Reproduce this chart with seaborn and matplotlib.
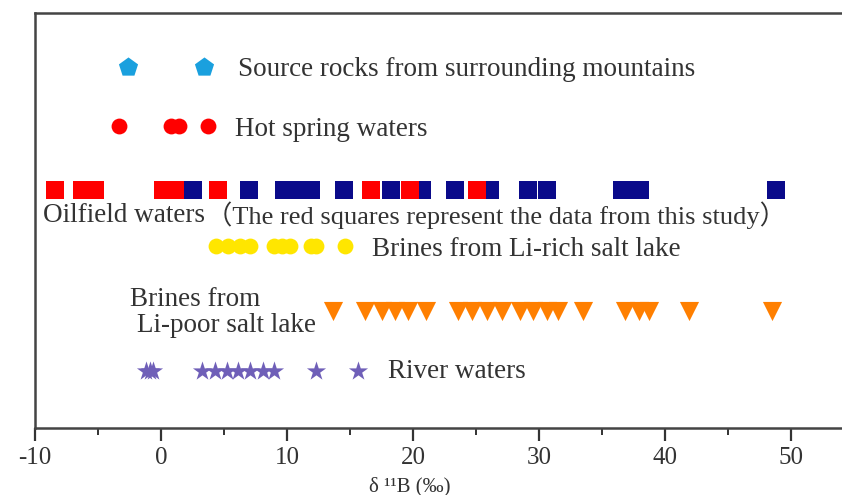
import numpy as np
import pandas as pd
import matplotlib
matplotlib.use("Agg")
import matplotlib.pyplot as plt
import seaborn as sns

# delta 11B values (per mil)
source_rocks = [-2.6, 3.4]
hot_springs = [-3.3, 0.8, 1.4, 3.7]
oil_blue = [2.5, 7.0, 9.8, 10.9, 11.9, 14.5, 18.25, 20.7, 23.3, 26.1,
            29.1, 30.6, 36.6, 38.0, 48.8]
oil_red = [-8.4, -6.3, -5.2, 0.15, 1.1, 4.5, 16.7, 19.8, 25.1]
li_rich = [4.4, 5.3, 6.3, 7.1, 9.0, 9.6, 10.2, 11.9, 12.3, 14.6]
li_poor = [13.65, 16.2, 17.5, 18.6, 19.6, 21.0, 23.6, 24.7, 25.9, 27.1,
           28.5, 29.5, 30.6, 31.5, 33.5, 36.8, 37.9, 38.7, 41.9, 48.5]
river = [-1.2, -0.9, -0.6, 3.25, 4.3, 5.2, 6.1, 7.1, 8.1, 9.0, 12.3, 15.6]

# -----------------------------
# layout (row heights in pixels from the top of the axes box)
# -----------------------------
row_y = {"source": 67, "hot": 126, "oil": 190, "rich": 246, "poor": 311, "river": 371}

groups = [
    ("source", source_rocks, "p", "#1AA0DE", 210),
    ("hot", hot_springs, "o", "#FF0000", 130),
    ("oil", oil_blue, "s", "#0A0A8A", 150),
    ("oil", oil_red, "s", "#FF0000", 150),
    ("rich", li_rich, "o", "#FFE600", 130),
    ("poor", li_poor, "v", "#FF7F00", 190),
    ("river", river, "*", "#6F5FB8", 210),
]

sns.set_style("ticks")
plt.rcParams["font.family"] = ["Liberation Serif", "Noto Sans CJK SC", "DejaVu Serif"]

W, H = 842, 495
fig = plt.figure(figsize=(W / 100, H / 100), dpi=100)
# axes box: left spine at x=35, top at y=13, bottom at y=428; right spine beyond the image
x0, x1 = -10, 55
px_per_unit = 12.6
ax = fig.add_axes([35 / W, (H - 428) / H, (x1 - x0) * px_per_unit / W, (428 - 13) / H])

for key, vals, mk, col, size in groups:
    d = pd.DataFrame({"x": vals, "y": [row_y[key]] * len(vals)})
    sns.scatterplot(data=d, x="x", y="y", marker=mk, color=col, s=size,
                    linewidth=0, ax=ax, zorder=3 if col != "#FF0000" else 4)

txt = "#333333"
fs = 19.5
ax.text(6.1, row_y["source"] + 3, "Source rocks from surrounding mountains",
        fontsize=fs, color=txt, va="center")
ax.text(5.9, row_y["hot"] + 3, "Hot spring waters", fontsize=fs, color=txt, va="center")
ax.text(-9.4, row_y["oil"] + 25, "Oilfield waters",
        fontsize=fs, color=txt, va="center")
ax.text(3.6, row_y["oil"] + 25, "（The red squares represent the data from this study）",
        fontsize=19, color=txt, va="center")
ax.text(16.75, row_y["rich"] + 3, "Brines from Li-rich salt lake",
        fontsize=fs, color=txt, va="center")
ax.text(-2.45, row_y["poor"] - 12, "Brines from", fontsize=fs, color=txt, va="center")
ax.text(-1.9, row_y["poor"] + 14, "Li-poor salt lake", fontsize=fs, color=txt, va="center")
ax.text(18.0, row_y["river"], "River waters", fontsize=fs, color=txt, va="center")

ax.set_xlim(x0, x1)
ax.set_ylim(428, 13)
ax.set_xticks(np.arange(-10, 51, 10))
ax.set_xticks(np.arange(-5, 51, 10), minor=True)
ax.set_yticks([])
ax.set_xticklabels([str(v) for v in range(-10, 51, 10)])
ax.tick_params(axis="x", which="major", length=9, width=1.6, direction="out",
               labelsize=18, colors="#333333", pad=5)
ax.tick_params(axis="x", which="minor", length=5, width=1.4, direction="out", colors="#333333")
ax.set_xlabel("δ ¹¹B (‰)", fontsize=15, color="#333333", va="top")
ax.xaxis.set_label_coords((410 - 35) / ((x1 - x0) * px_per_unit), -0.118)
ax.set_ylabel("")

for side in ["left", "top", "bottom", "right"]:
    ax.spines[side].set_color("#444444")
    ax.spines[side].set_linewidth(1.8)

fig.savefig("out.png", dpi=100)
